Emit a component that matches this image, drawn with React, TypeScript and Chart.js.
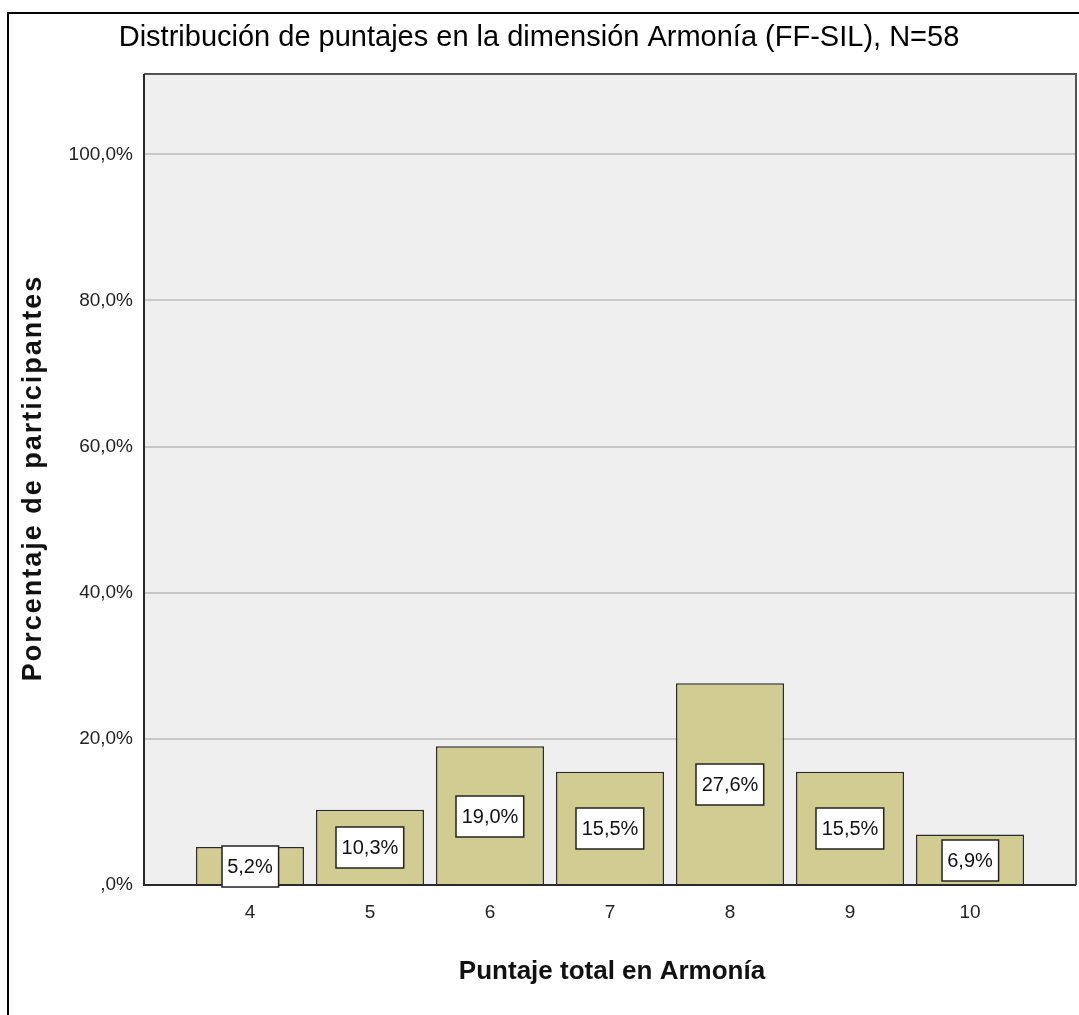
import React, { useEffect, useRef } from "react";
import { Chart, registerables } from "chart.js";

Chart.register(...registerables);

const chartTitle = "Distribución de puntajes en la dimensión Armonía (FF-SIL), N=58";
const xAxisTitle = "Puntaje total en Armonía";
const yAxisTitle = "Porcentaje de participantes";
const scoreCategories = [4, 5, 6, 7, 8, 9, 10];
const percentValues = [5.2, 10.3, 19.0, 15.5, 27.6, 15.5, 6.9];
const yTickValues = [0, 20, 40, 60, 80, 100];

const FONT = '"Liberation Sans", Arial, Helvetica, sans-serif';
const W = 1079;
const H = 1015;

const fmtPct = (v: number) => {
  let s = v.toFixed(1).replace(".", ",");
  if (s.startsWith("0,")) s = s.slice(1);
  return s + "%";
};

const decorPlugin = {
  id: "decor",
  beforeDraw(chart: any) {
    const { ctx, chartArea } = chart;
    ctx.save();
    ctx.fillStyle = "#ffffff";
    ctx.fillRect(0, 0, chart.width, chart.height);
    ctx.fillStyle = "#efefef";
    ctx.fillRect(chartArea.left, chartArea.top, chartArea.right - chartArea.left, chartArea.bottom - chartArea.top);
    ctx.restore();
  },
  afterDatasetsDraw(chart: any) {
    const { ctx, chartArea } = chart;
    ctx.save();
    // plot frame
    ctx.strokeStyle = "#555555";
    ctx.lineWidth = 2;
    ctx.beginPath();
    ctx.moveTo(chartArea.left, chartArea.top);
    ctx.lineTo(chartArea.right, chartArea.top);
    ctx.lineTo(chartArea.right, chartArea.bottom);
    ctx.stroke();
    ctx.strokeStyle = "#2a2a2a";
    ctx.beginPath();
    ctx.moveTo(chartArea.left, chartArea.top);
    ctx.lineTo(chartArea.left, chartArea.bottom);
    ctx.lineTo(chartArea.right, chartArea.bottom);
    ctx.stroke();

    // value labels
    const meta = chart.getDatasetMeta(0);
    ctx.font = `20px ${FONT}`;
    ctx.textAlign = "center";
    ctx.textBaseline = "middle";
    meta.data.forEach((bar: any, i: number) => {
      const txt = fmtPct(percentValues[i]);
      const cy = (bar.y + bar.base) / 2 + 1;
      const w = ctx.measureText(txt).width + 11;
      const h = 41;
      const x0 = Math.round(bar.x - w / 2);
      const y0 = Math.round(cy - h / 2);
      ctx.fillStyle = "#ffffff";
      ctx.fillRect(x0, y0, w, h);
      ctx.strokeStyle = "#222222";
      ctx.lineWidth = 1.5;
      ctx.strokeRect(x0, y0, w, h);
      ctx.fillStyle = "#111111";
      ctx.fillText(txt, bar.x, cy + 1);
    });
    ctx.restore();
  },
  afterDraw(chart: any) {
    const { ctx } = chart;
    ctx.save();
    ctx.fillStyle = "#000000";
    // outer frame
    ctx.fillRect(7, 12, 2, H - 12);
    ctx.fillRect(7, 12, W - 7, 2);

    // title
    ctx.font = `29px ${FONT}`;
    ctx.textAlign = "center";
    ctx.textBaseline = "alphabetic";
    ctx.fillStyle = "#000000";
    ctx.fillText(chartTitle, 539, 46);

    // x axis title
    ctx.font = `bold 26px ${FONT}`;
    ctx.fillStyle = "#111111";
    ctx.fillText(xAxisTitle, 612, 979);

    // y axis title
    ctx.translate(41, 478);
    ctx.rotate(-Math.PI / 2);
    ctx.font = `bold 27px ${FONT}`;
    try {
      (ctx as any).letterSpacing = "2px";
    } catch (e) {}
    ctx.fillText(yAxisTitle, 0, 0);
    ctx.restore();
  },
};

export default function App() {
  const canvasRef = useRef<HTMLCanvasElement | null>(null);

  useEffect(() => {
    if (!canvasRef.current) return;
    const chart = new Chart(canvasRef.current, {
      type: "bar",
      data: {
        datasets: [
          {
            data: scoreCategories.map((c, i) => ({ x: c, y: percentValues[i] })),
            backgroundColor: "#d1cc91",
            borderColor: "#2b2b2b",
            borderWidth: 1.5,
            categoryPercentage: 1,
            barPercentage: 0.9,
          },
        ],
      },
      options: {
        responsive: false,
        animation: false,
        devicePixelRatio: 1,
        layout: { padding: { top: 74, right: 3, left: 0, bottom: 0 } },
        plugins: {
          legend: { display: false },
          tooltip: { enabled: false },
          title: { display: false },
        },
        scales: {
          x: {
            type: "linear",
            offset: false,
            min: 3.117,
            max: 10.883,
            afterBuildTicks: (s: any) => {
              s.ticks = scoreCategories.map((v) => ({ value: v }));
            },
            afterFit: (s: any) => {
              s.height = 130;
            },
            grid: { display: false, drawTicks: false },
            border: { display: false },
            ticks: {
              font: { family: FONT, size: 19 },
              color: "#222222",
              padding: 16,
              autoSkip: false,
              maxRotation: 0,
              callback: (v: any) => String(v),
            },
          },
          y: {
            min: 0,
            max: 111,
            afterBuildTicks: (s: any) => {
              s.ticks = yTickValues.map((v) => ({ value: v }));
            },
            afterFit: (s: any) => {
              s.width = 144;
            },
            grid: { color: "#c8c8c8", lineWidth: 2, drawTicks: false },
            border: { display: false },
            ticks: {
              font: { family: FONT, size: 19 },
              color: "#222222",
              padding: 11,
              callback: (v: any) => fmtPct(Number(v)),
            },
          },
        },
      },
      plugins: [decorPlugin],
    });
    return () => chart.destroy();
  }, []);

  return (
    <div style={{ position: "absolute", left: 0, top: 0, width: W, height: H, background: "#fff" }}>
      <canvas ref={canvasRef} width={W} height={H} style={{ display: "block", width: W, height: H }} />
    </div>
  );
}
